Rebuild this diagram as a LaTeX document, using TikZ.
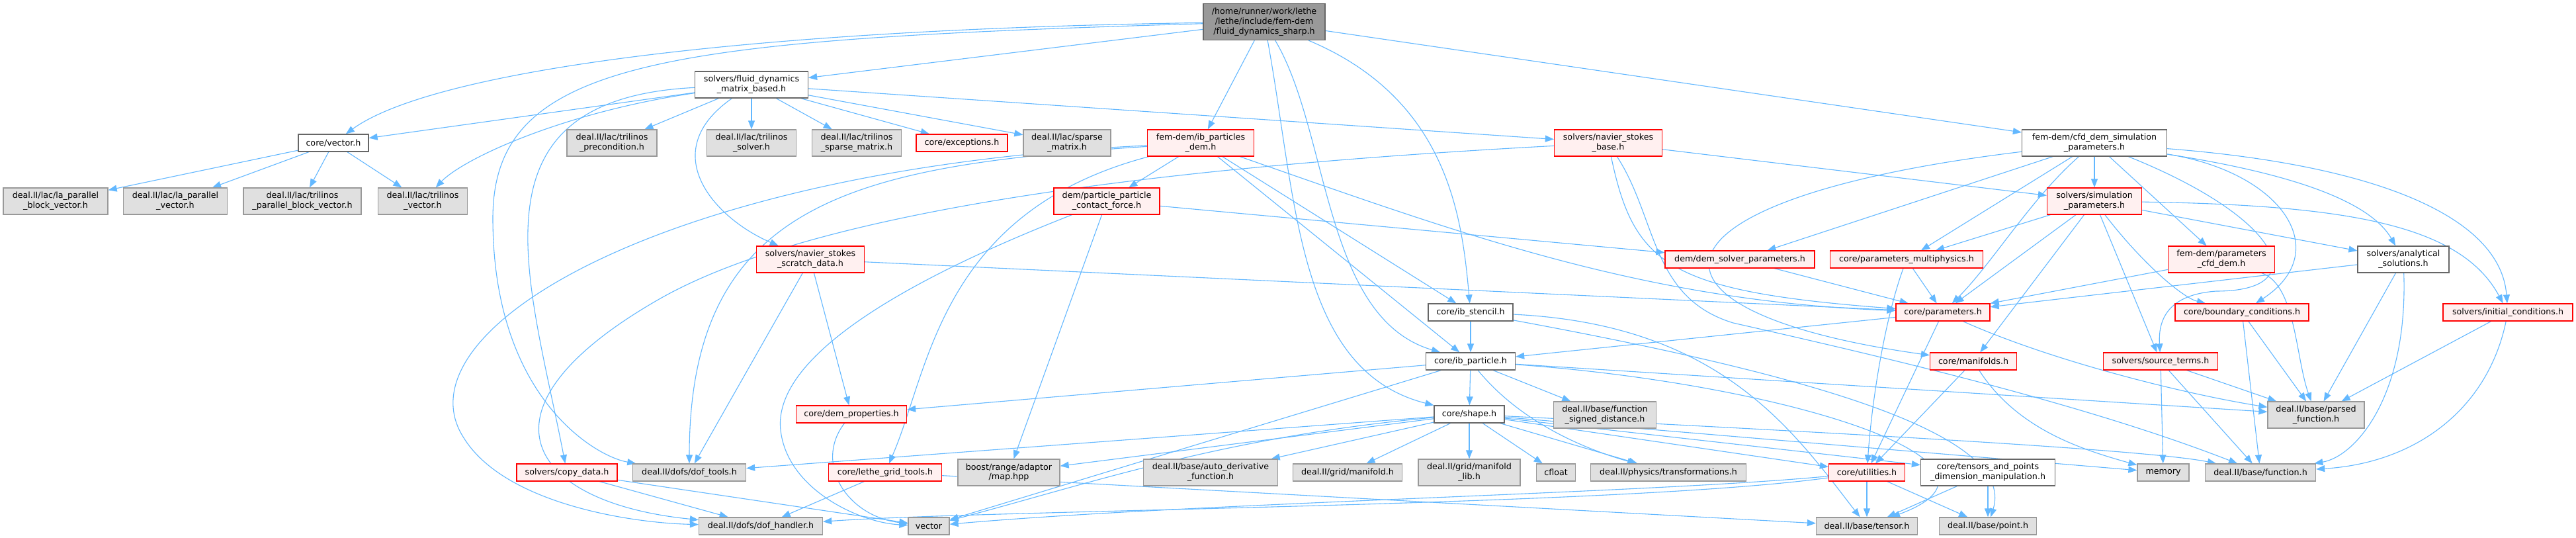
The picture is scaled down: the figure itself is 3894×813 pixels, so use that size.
\documentclass[tikz,border=0pt]{standalone}
\usepackage{fontspec}
\setmainfont{DejaVu Sans}
\usetikzlibrary{arrows.meta}
\pgfdeclarelayer{bg}
\pgfsetlayers{bg,main}
\definecolor{edgec}{HTML}{63B8FF}
\definecolor{gfill}{HTML}{E0E0E0}
\definecolor{gborder}{HTML}{999999}
\definecolor{rfill}{HTML}{FFF0F0}
\definecolor{rborder}{HTML}{FF0000}
\definecolor{wborder}{HTML}{666666}
\definecolor{mfill}{HTML}{999999}
\tikzset{
 nbase/.style={rectangle, inner sep=0pt, align=center, font=\fontsize{12.7}{14.7}\selectfont, line width=1.3pt, text=black},
 gbox/.style={nbase, draw=gborder, fill=gfill},
 rbox/.style={nbase, draw=rborder, fill=rfill},
 wbox/.style={nbase, draw=wborder, fill=white},
 mbox/.style={nbase, draw=wborder, fill=mfill},
 dep/.style={draw=edgec, line width=1.1pt, -{Triangle[length=13pt,width=10pt]}, edgec}
}
\begin{document}
\begin{tikzpicture}[x=1pt,y=-1pt]
\useasboundingbox (0,0) rectangle (3894,813);
% nodes
\node[mbox, minimum width=184pt, minimum height=55pt] (main) at (1911,33) {/home/runner/work/lethe\\/lethe/include/fem-dem\\/fluid\_dynamics\_sharp.h};
\node[wbox, minimum width=106pt, minimum height=26pt] (vech) at (504,216) {core/vector.h};
\node[gbox, minimum width=158pt, minimum height=40pt] (lapbv) at (84,304) {deal.II/lac/la\_parallel\\\_block\_vector.h};
\node[gbox, minimum width=157pt, minimum height=40pt] (lapv) at (265,304) {deal.II/lac/la\_parallel\\\_vector.h};
\node[gbox, minimum width=178pt, minimum height=40pt] (tpbv) at (457,304) {deal.II/lac/trilinos\\\_parallel\_block\_vector.h};
\node[gbox, minimum width=135pt, minimum height=40pt] (tvec) at (639,304) {deal.II/lac/trilinos\\\_vector.h};
\node[wbox, minimum width=171pt, minimum height=40pt] (fdmb) at (1136,128) {solvers/fluid\_dynamics\\\_matrix\_based.h};
\node[gbox, minimum width=136pt, minimum height=40pt] (tprec) at (925,216) {deal.II/lac/trilinos\\\_precondition.h};
\node[gbox, minimum width=135pt, minimum height=40pt] (tsolv) at (1136,216) {deal.II/lac/trilinos\\\_solver.h};
\node[gbox, minimum width=135pt, minimum height=40pt] (tsparse) at (1295,216) {deal.II/lac/trilinos\\\_sparse\_matrix.h};
\node[rbox, minimum width=163pt, minimum height=40pt] (scratch) at (1225,392) {solvers/navier\_stokes\\\_scratch\_data.h};
\node[rbox, minimum width=138pt, minimum height=26pt] (exc) at (1454,216) {core/exceptions.h};
\node[gbox, minimum width=132pt, minimum height=40pt] (spm) at (1613,216) {deal.II/lac/sparse\\\_matrix.h};
\node[rbox, minimum width=161pt, minimum height=40pt] (ibpdem) at (1815,216) {fem-dem/ib\_particles\\\_dem.h};
\node[rbox, minimum width=160pt, minimum height=40pt] (ppcf) at (1673,304) {dem/particle\_particle\\\_contact\_force.h};
\node[rbox, minimum width=163pt, minimum height=40pt] (nsb) at (2431,216) {solvers/navier\_stokes\\\_base.h};
\node[rbox, minimum width=226pt, minimum height=26pt] (demsolv) at (2630,392) {dem/dem\_solver\_parameters.h};
\node[wbox, minimum width=219pt, minimum height=40pt] (cfddem) at (3166,216) {fem-dem/cfd\_dem\_simulation\\\_parameters.h};
\node[rbox, minimum width=143pt, minimum height=40pt] (simpar) at (3166,304) {solvers/simulation\\\_parameters.h};
\node[rbox, minimum width=231pt, minimum height=26pt] (multiph) at (2882,392) {core/parameters\_multiphysics.h};
\node[rbox, minimum width=161pt, minimum height=40pt] (parcfd) at (3358,392) {fem-dem/parameters\\\_cfd\_dem.h};
\node[wbox, minimum width=138pt, minimum height=40pt] (analyt) at (3633,392) {solvers/analytical\\\_solutions.h};
\node[rbox, minimum width=152pt, minimum height=26pt] (copyd) at (857,714) {solvers/copy\_data.h};
\node[gbox, minimum width=171pt, minimum height=26pt] (doft) at (1042,714) {deal.II/dofs/dof\_tools.h};
\node[gbox, minimum width=187pt, minimum height=26pt] (dofh) at (1150,795) {deal.II/dofs/dof\_handler.h};
\node[rbox, minimum width=167pt, minimum height=26pt] (demprop) at (1287,626) {core/dem\_properties.h};
\node[rbox, minimum width=171pt, minimum height=26pt] (lgt) at (1338,714) {core/lethe\_grid\_tools.h};
\node[gbox, minimum width=154pt, minimum height=40pt] (boost) at (1525,714) {boost/range/adaptor\\/map.hpp};
\node[gbox, minimum width=203pt, minimum height=40pt] (autod) at (1830,714) {deal.II/base/auto\_derivative\\\_function.h};
\node[gbox, minimum width=62pt, minimum height=26pt] (vec) at (1404,795) {vector};
\node[wbox, minimum width=128pt, minimum height=26pt] (ibst) at (2223,472) {core/ib\_stencil.h};
\node[wbox, minimum width=135pt, minimum height=26pt] (ibp) at (2223,546) {core/ib\_particle.h};
\node[wbox, minimum width=106pt, minimum height=26pt] (shape) at (2221,626) {core/shape.h};
\node[gbox, minimum width=155pt, minimum height=40pt] (fsd) at (2426,627) {deal.II/base/function\\\_signed\_distance.h};
\node[gbox, minimum width=165pt, minimum height=26pt] (gman) at (2037,714) {deal.II/grid/manifold.h};
\node[gbox, minimum width=154pt, minimum height=40pt] (manlib) at (2221,714) {deal.II/grid/manifold\\\_lib.h};
\node[gbox, minimum width=59pt, minimum height=26pt] (cfloat) at (2352,714) {cfloat};
\node[gbox, minimum width=235pt, minimum height=26pt] (phys) at (2522,714) {deal.II/physics/transformations.h};
\node[rbox, minimum width=142pt, minimum height=26pt] (params) at (2937,472) {core/parameters.h};
\node[rbox, minimum width=131pt, minimum height=26pt] (manif) at (2983,546) {core/manifolds.h};
\node[rbox, minimum width=173pt, minimum height=26pt] (source) at (3266,546) {solvers/source\_terms.h};
\node[rbox, minimum width=115pt, minimum height=26pt] (util) at (2822,714) {core/utilities.h};
\node[wbox, minimum width=203pt, minimum height=40pt] (tpdm) at (3005,714) {core/tensors\_and\_points\\\_dimension\_manipulation.h};
\node[gbox, minimum width=78pt, minimum height=26pt] (memory) at (3270,714) {memory};
\node[gbox, minimum width=153pt, minimum height=26pt] (tensor) at (2822,795) {deal.II/base/tensor.h};
\node[gbox, minimum width=147pt, minimum height=26pt] (point) at (3005,795) {deal.II/base/point.h};
\node[rbox, minimum width=202pt, minimum height=26pt] (bc) at (3389,472) {core/boundary\_conditions.h};
\node[rbox, minimum width=196pt, minimum height=26pt] (initc) at (3791,472) {solvers/initial\_conditions.h};
\node[gbox, minimum width=146pt, minimum height=40pt] (parsed) at (3501,627) {deal.II/base/parsed\\\_function.h};
\node[gbox, minimum width=167pt, minimum height=26pt] (func) at (3417,714) {deal.II/base/function.h};
% edges
\begin{pgfonlayer}{bg}
\fill[white] (0,0) rectangle (3894,813);
% main
\draw[dep] (main) .. controls (1100,45) and (650,110) .. (vech);
\draw[dep] (main) -- (fdmb);
\draw[dep] (main) -- (ibpdem);
\draw[dep] (main) -- (cfddem);
\draw[dep] (main) .. controls (2190,150) and (2210,330) .. (ibst);
\draw[dep] (main) .. controls (2010,200) and (2000,480) .. (ibp);
\draw[dep] (main) .. controls (1960,300) and (1960,560) .. (shape);
\draw[dep] (main) .. controls (1000,60) and (745,90) .. (745,330) .. controls (745,600) and (900,690) .. (doft);
% vector.h
\draw[dep] (vech) -- (lapbv);
\draw[dep] (vech) -- (lapv);
\draw[dep] (vech) -- (tpbv);
\draw[dep] (vech) -- (tvec);
% fdmb
\draw[dep] (fdmb) -- (vech);
\draw[dep] (fdmb) .. controls (850,170) and (700,240) .. (tvec);
\draw[dep] (fdmb) -- (tprec);
\draw[dep] (fdmb) -- (tsolv);
\draw[dep] (fdmb) -- (tsparse);
\draw[dep] (fdmb) -- (exc);
\draw[dep] (fdmb) -- (spm);
\draw[dep] (fdmb) .. controls (990,230) and (1080,330) .. (scratch);
\draw[dep] (fdmb) -- (nsb);
\draw[dep] (fdmb) .. controls (700,150) and (800,420) .. (copyd);
% scratch
\draw[dep] (scratch) -- (doft);
\draw[dep] (scratch) -- (demprop);
\draw[dep] (scratch) -- (params);
% ibpdem
\draw[dep] (ibpdem) -- (ppcf);
\draw[dep] (ibpdem) .. controls (1300,250) and (1042,300) .. (doft);
\draw[dep] (ibpdem) .. controls (1000,255) and (600,500) .. (700,660) .. controls (760,760) and (950,790) .. (dofh);
\draw[dep] (ibpdem) .. controls (1420,320) and (1405,560) .. (lgt);
\draw[dep] (ibpdem) -- (ibp);
\draw[dep] (ibpdem) -- (ibst);
\draw[dep] (ibpdem) .. controls (2200,350) and (2480,455) .. (params);
% nsb
\draw[dep] (nsb) -- (simpar);
\draw[dep] (nsb) .. controls (1800,250) and (1250,310) .. (1000,450) .. controls (700,620) and (800,760) .. (dofh);
\draw[dep] (nsb) .. controls (2470,400) and (2520,440) .. (params);
\draw[dep] (nsb) .. controls (2505,330) and (2495,450) .. (2620,488) .. controls (2850,540) and (3150,610) .. (func);
% cfddem
\draw[dep] (cfddem) -- (demsolv);
\draw[dep] (cfddem) -- (multiph);
\draw[dep] (cfddem) .. controls (3070,300) and (3010,400) .. (params);
\draw[dep] (cfddem) -- (simpar);
\draw[dep] (cfddem) -- (parcfd);
\draw[dep] (cfddem) .. controls (3450,260) and (3580,300) .. (analyt);
\draw[dep] (cfddem) .. controls (3600,250) and (3780,330) .. (initc);
\draw[dep] (cfddem) .. controls (3450,260) and (3530,380) .. (bc);
\draw[dep] (cfddem) .. controls (3450,330) and (3500,440) .. (3350,440) .. controls (3280,445) and (3262,480) .. (source);
\draw[dep] (cfddem) .. controls (2470,300) and (2440,470) .. (manif);
% simpar
\draw[dep] (simpar) -- (multiph);
\draw[dep] (simpar) -- (params);
\draw[dep] (simpar) -- (manif);
\draw[dep] (simpar) -- (source);
\draw[dep] (simpar) .. controls (3240,400) and (3300,450) .. (bc);
\draw[dep] (simpar) .. controls (3550,310) and (3720,340) .. (initc);
\draw[dep] (simpar) -- (analyt);
% multiphysics
\draw[dep] (multiph) -- (params);
\draw[dep] (multiph) .. controls (2850,480) and (2830,600) .. (util);
% dem solver
\draw[dep] (demsolv) -- (params);
% parameters
\draw[dep] (params) -- (ibp);
\draw[dep] (params) -- (util);
\draw[dep] (params) .. controls (3100,545) and (3300,595) .. (parsed);
% manifolds
\draw[dep] (manif) -- (util);
\draw[dep] (manif) .. controls (3050,650) and (3150,680) .. (memory);
% source terms
\draw[dep] (source) -- (parsed);
\draw[dep] (source) -- (memory);
\draw[dep] (source) -- (func);
% boundary conditions
\draw[dep] (bc) -- (parsed);
\draw[dep] (bc) -- (func);
% initial conditions
\draw[dep] (initc) -- (parsed);
\draw[dep] (initc) .. controls (3760,620) and (3650,700) .. (func);
% analytical
\draw[dep] (analyt) -- (parsed);
\draw[dep] (analyt) .. controls (3640,600) and (3560,690) .. (func);
\draw[dep] (analyt) -- (params);
% parameters cfd dem
\draw[dep] (parcfd) -- (params);
\draw[dep] (parcfd) .. controls (3470,430) and (3470,540) .. (parsed);
% ib stencil
\draw[dep] (ibst) -- (ibp);
\draw[dep] (ibst) .. controls (2600,490) and (2710,650) .. (tensor);
\draw[dep] (ibst) .. controls (2700,560) and (3050,650) .. (point);
% ib particle
\draw[dep] (ibp) -- (demprop);
\draw[dep] (ibp) -- (shape);
\draw[dep] (ibp) -- (fsd);
\draw[dep] (ibp) .. controls (2300,640) and (2400,680) .. (phys);
\draw[dep] (ibp) -- (vec);
\draw[dep] (ibp) -- (parsed);
\draw[dep] (ibp) .. controls (2700,580) and (3080,700) .. (tensor);
% shape
\draw[dep] (shape) -- (doft);
\draw[dep] (shape) -- (boost);
\draw[dep] (shape) -- (autod);
\draw[dep] (shape) .. controls (1850,660) and (1650,730) .. (vec);
\draw[dep] (shape) -- (gman);
\draw[dep] (shape) -- (manlib);
\draw[dep] (shape) -- (cfloat);
\draw[dep] (shape) -- (phys);
\draw[dep] (shape) -- (util);
\draw[dep] (shape) -- (tpdm);
\draw[dep] (shape) -- (memory);
\draw[dep] (shape) .. controls (2800,655) and (3250,680) .. (func);
% utilities
\draw[dep] (util) -- (tensor);
\draw[dep] (util) -- (point);
\draw[dep] (util) .. controls (2500,745) and (1800,760) .. (vec);
\draw[dep] (util) .. controls (2450,765) and (1500,770) .. (dofh);
% tensors and points
\draw[dep] (tpdm) -- (tensor);
\draw[dep] (tpdm) -- (point);
% copy data
\draw[dep] (copyd) -- (dofh);
\draw[dep] (copyd) -- (vec);
% dem properties
\draw[dep] (demprop) .. controls (1230,700) and (1280,780) .. (vec);
% lethe grid tools
\draw[dep] (lgt) -- (dofh);
\draw[dep] (lgt) -- (tensor);
% particle contact force
\draw[dep] (ppcf) -- (demsolv);
\draw[dep] (ppcf) -- (boost);
\draw[dep] (ppcf) .. controls (1300,450) and (1170,560) .. (1180,650) .. controls (1190,740) and (1300,790) .. (vec);
\end{pgfonlayer}
\end{tikzpicture}
\end{document}
